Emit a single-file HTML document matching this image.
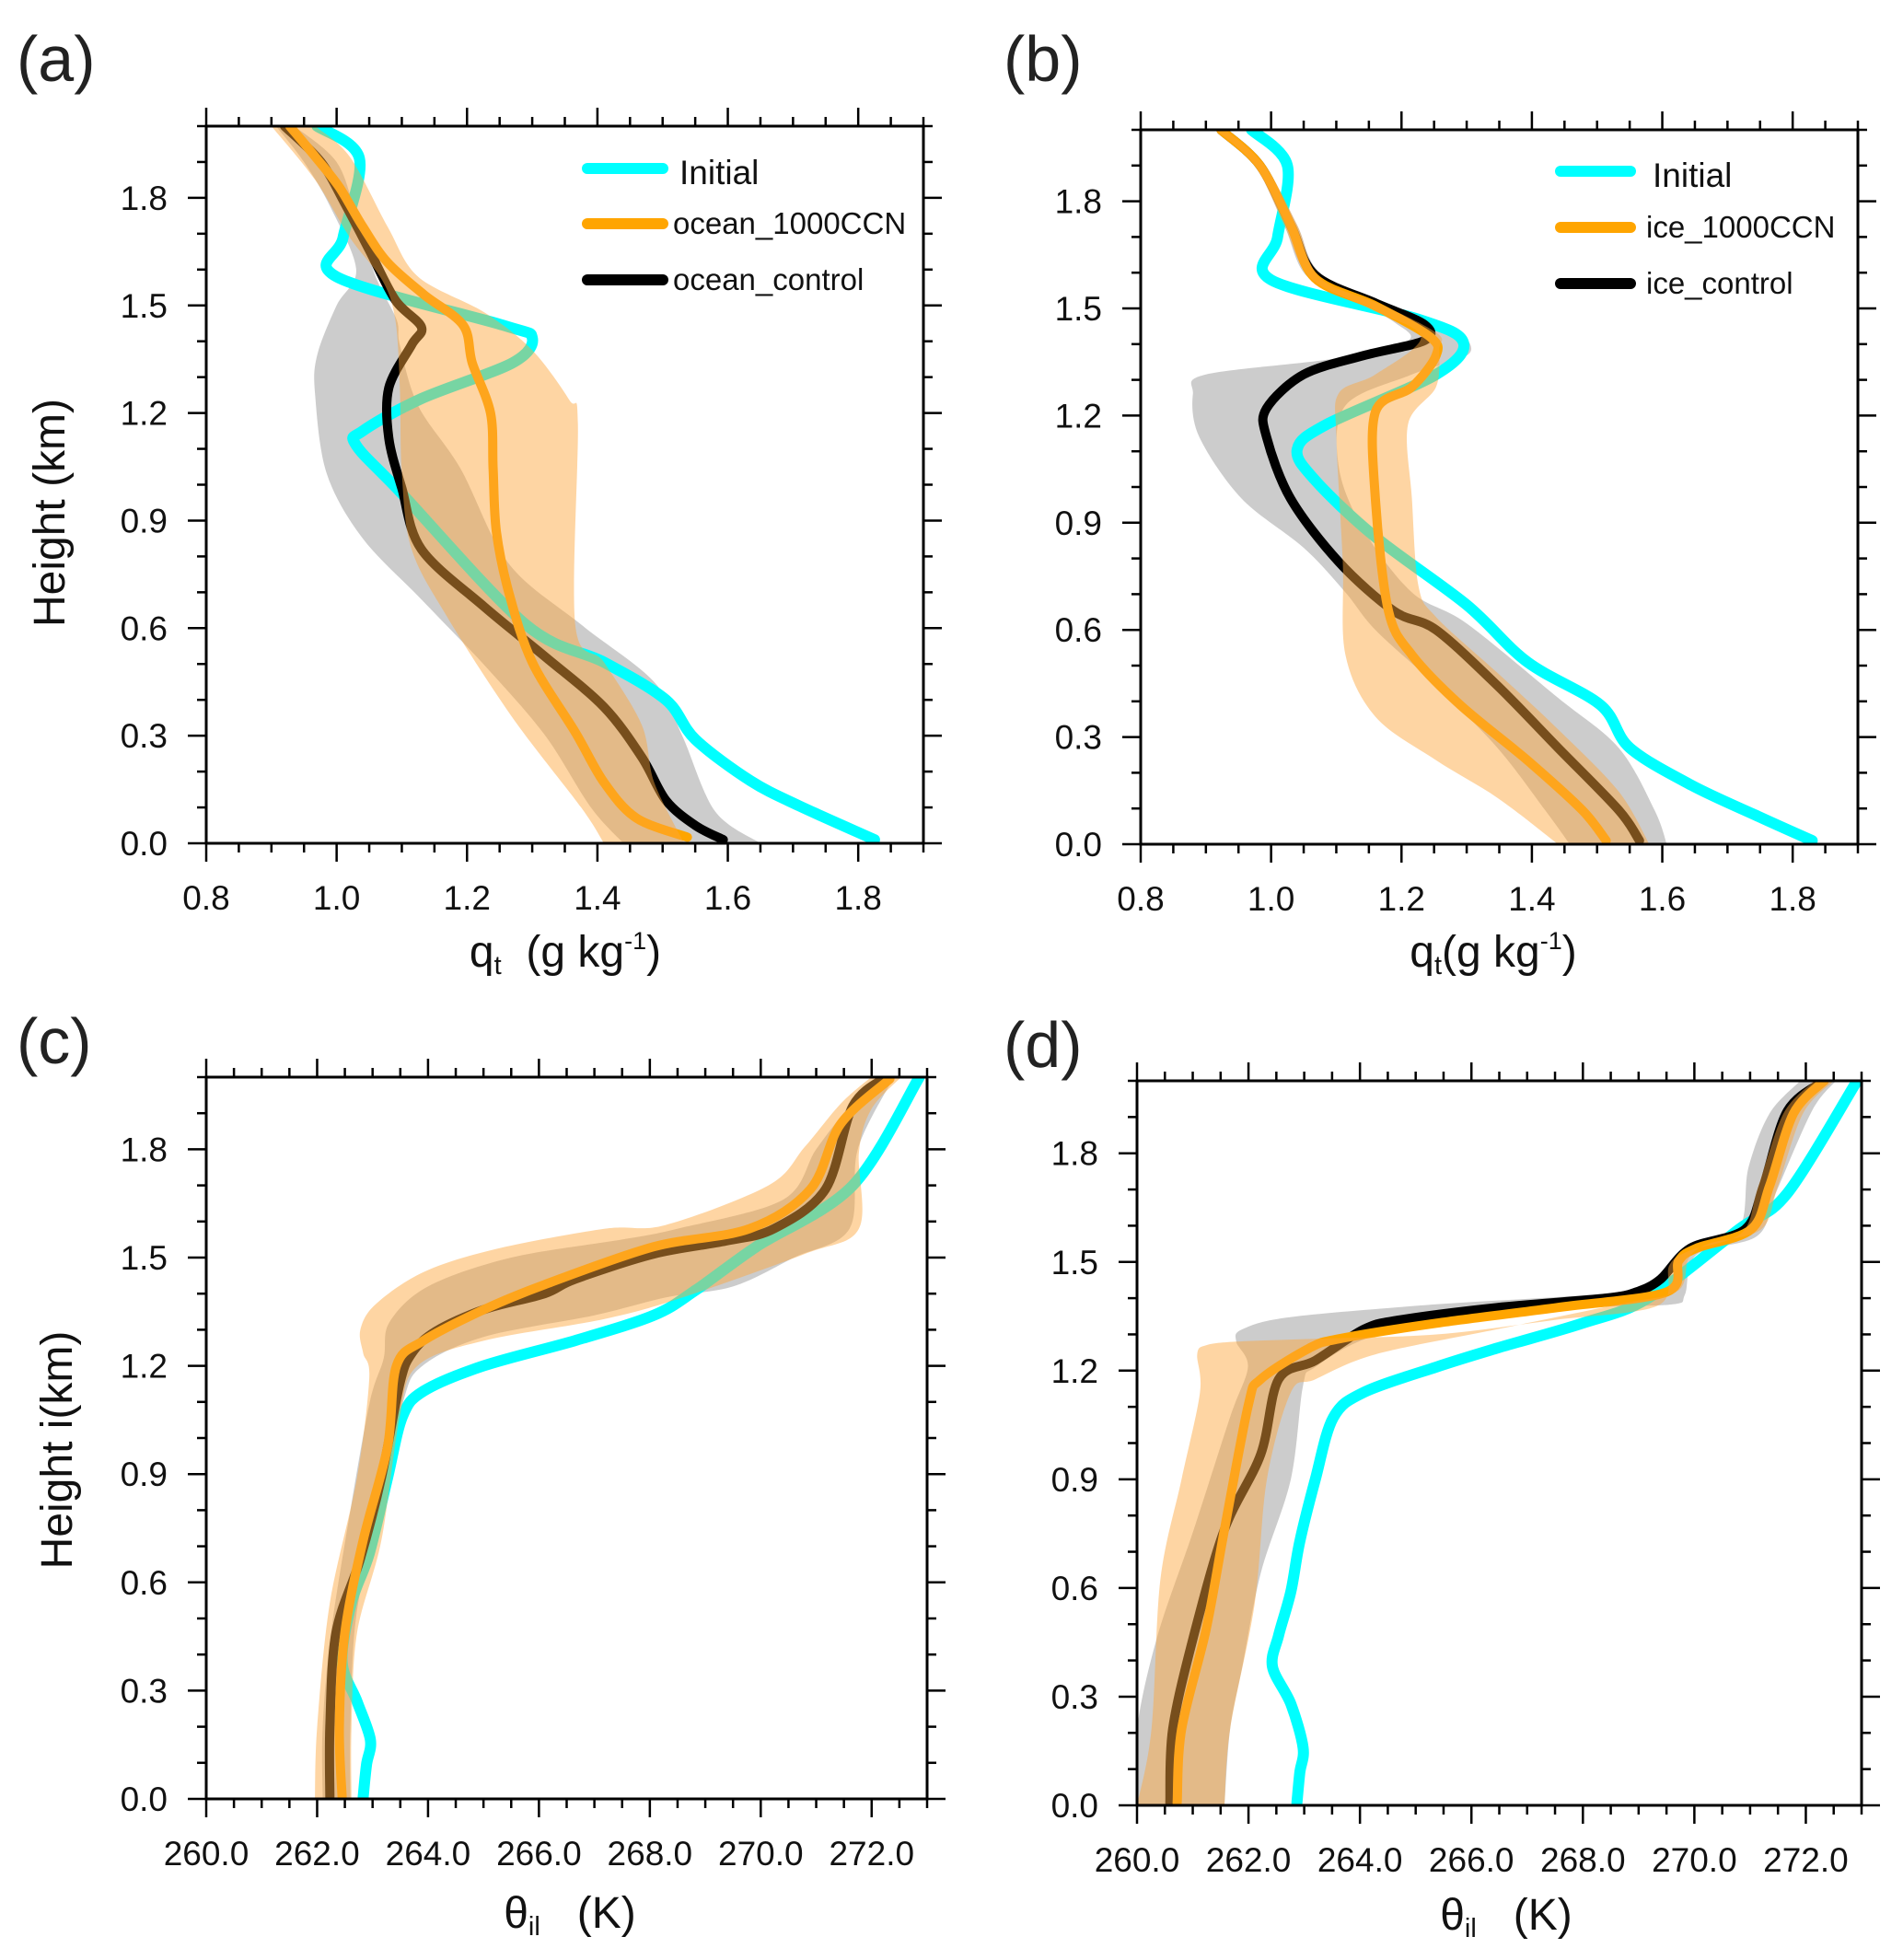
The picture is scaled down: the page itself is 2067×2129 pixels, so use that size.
<!DOCTYPE html>
<html><head><meta charset="utf-8"><style>
html,body{margin:0;padding:0;background:#fff;}
svg{display:block;font-family:"Liberation Sans",Arial,sans-serif;}
</style></head><body>
<svg id="fig" width="2067" height="2129" viewBox="0 0 2067 2129" xmlns="http://www.w3.org/2000/svg"></svg>
<script>
// ---------- tick labels ----------
const qTickVals=[0.8,1.0,1.2,1.4,1.6,1.8];
const qTickLabels=["0.8","1.0","1.2","1.4","1.6","1.8"];
const tTickVals=[260,262,264,266,268,270,272];
const tTickLabels=["260.0","262.0","264.0","266.0","268.0","270.0","272.0"];
const zTickVals=[0,0.3,0.6,0.9,1.2,1.5,1.8];
const zTickLabels=["0.0","0.3","0.6","0.9","1.2","1.5","1.8"];

// ---------- panel (a) ----------
const aInitQ=[1.825,1.71,1.635,1.55,1.505,1.41,1.29,1.10,1.03,1.04,1.13,1.27,1.30,1.255,1.0,1.01,1.035,0.97];
const aInitZ=[0.01,0.104,0.174,0.29,0.40,0.505,0.61,0.975,1.11,1.15,1.24,1.34,1.41,1.445,1.58,1.69,1.91,2.0];
const aCtlQ=[1.593,1.55,1.505,1.468,1.41,1.32,1.226,1.13,1.10,1.08,1.08,1.115,1.13,1.09,1.05,1.015,0.976,0.92];
const aCtlZ=[0.01,0.05,0.12,0.24,0.38,0.52,0.66,0.82,0.99,1.13,1.27,1.39,1.44,1.515,1.655,1.776,1.90,2.0];
const aCcnQ=[1.538,1.46,1.41,1.366,1.30,1.264,1.245,1.24,1.236,1.208,1.194,1.134,1.078,1.04,1.004,0.967,0.928];
const aCcnZ=[0.017,0.07,0.17,0.31,0.505,0.70,0.87,1.045,1.20,1.34,1.445,1.53,1.62,1.72,1.83,1.915,2.0];
const aCtlLoQ=[1.44,1.39,1.32,1.23,1.13,1.04,0.985,0.967,0.97,1.0,1.03,0.99,0.95,0.907];
const aCtlLoZ=[0.0,0.10,0.30,0.49,0.68,0.85,1.03,1.25,1.36,1.50,1.60,1.776,1.90,2.0];
const aCtlHiQ=[1.65,1.58,1.53,1.487,1.375,1.264,1.19,1.125,1.097,1.092,1.06,1.03,1.00,0.935];
const aCtlHiZ=[0.0,0.09,0.30,0.45,0.61,0.78,1.045,1.22,1.39,1.46,1.58,1.75,1.90,2.0];
const aCcnLoQ=[1.41,1.375,1.27,1.17,1.115,1.10,1.097,1.09,1.07,1.02,0.967,0.90];
const aCcnLoZ=[0.0,0.10,0.35,0.63,0.82,1.03,1.27,1.46,1.57,1.69,1.85,2.0];
const aCcnHiQ=[1.533,1.487,1.468,1.41,1.366,1.37,1.357,1.30,1.227,1.125,1.078,1.02,0.967];
const aCcnHiZ=[0.0,0.17,0.33,0.505,0.61,1.17,1.236,1.375,1.48,1.58,1.72,1.915,2.0];

// ---------- panel (b) ----------
const bInitQ=[1.83,1.747,1.645,1.55,1.505,1.393,1.30,1.16,1.067,1.04,1.086,1.253,1.295,1.225,1.0,1.01,1.025,0.97];
const bInitZ=[0.01,0.078,0.165,0.27,0.39,0.51,0.67,0.86,1.02,1.106,1.176,1.315,1.405,1.47,1.58,1.70,1.90,2.0];
const bCtlQ=[1.565,1.533,1.44,1.347,1.253,1.188,1.104,1.03,0.993,0.993,1.05,1.142,1.235,1.235,1.16,1.067,1.03,0.983,0.923];
const bCtlZ=[0.01,0.096,0.27,0.444,0.60,0.653,0.79,0.967,1.14,1.22,1.315,1.368,1.41,1.455,1.515,1.594,1.733,1.90,2.0];
const bCcnQ=[1.514,1.477,1.393,1.29,1.216,1.18,1.16,1.16,1.216,1.253,1.244,1.16,1.067,1.03,0.983,0.923];
const bCcnZ=[0.01,0.096,0.235,0.39,0.53,0.653,0.967,1.21,1.28,1.368,1.42,1.507,1.585,1.733,1.90,2.0];
const bCtlLoQ=[1.458,1.42,1.347,1.253,1.16,1.114,1.05,0.955,0.89,0.88,0.90,1.10,1.21,1.19,1.14,1.055,1.02,0.975,0.915];
const bCtlLoZ=[0.0,0.096,0.27,0.444,0.60,0.705,0.83,0.967,1.14,1.26,1.315,1.36,1.41,1.46,1.51,1.59,1.733,1.90,2.0];
const bCtlHiQ=[1.607,1.588,1.533,1.44,1.30,1.216,1.142,1.104,1.114,1.216,1.305,1.272,1.18,1.075,1.04,0.99,0.93];
const bCtlHiZ=[0.0,0.096,0.27,0.41,0.618,0.705,0.88,1.054,1.228,1.315,1.376,1.455,1.507,1.60,1.733,1.90,2.0];
const bCcnLoQ=[1.44,1.347,1.253,1.16,1.114,1.11,1.10,1.104,1.16,1.23,1.15,1.06,1.02,0.975,0.915];
const bCcnLoZ=[0.0,0.13,0.235,0.357,0.53,0.79,1.14,1.263,1.315,1.42,1.50,1.585,1.733,1.90,2.0];
const bCcnHiQ=[1.58,1.533,1.44,1.347,1.253,1.226,1.216,1.21,1.253,1.258,1.255,1.17,1.075,1.04,0.99,0.93];
const bCcnHiZ=[0.0,0.148,0.322,0.48,0.636,0.723,0.967,1.176,1.28,1.385,1.43,1.51,1.585,1.733,1.90,2.0];

// ---------- panel (c) ----------
const cInitT=[262.83,262.89,262.96,262.72,262.45,262.62,262.94,263.27,263.54,263.92,265.0,266.65,268.07,268.83,269.92,271.66,272.86];
const cInitZ=[0.005,0.095,0.164,0.27,0.38,0.544,0.68,0.89,1.06,1.13,1.20,1.27,1.34,1.41,1.53,1.70,2.0];
const cCtlT=[262.23,262.23,262.34,262.78,263.16,263.49,263.71,264.14,265.01,266.1,266.65,268.07,269.37,270.24,271.17,271.66,272.26];
const cCtlZ=[0.005,0.2,0.46,0.665,0.89,1.15,1.235,1.296,1.356,1.40,1.44,1.51,1.546,1.58,1.69,1.92,2.0];
const cCcnT=[262.45,262.4,262.5,262.83,263.27,263.43,263.92,265.01,266.1,268.07,269.8,270.9,271.44,272.33];
const cCcnZ=[0.005,0.2,0.46,0.717,0.976,1.20,1.27,1.356,1.425,1.53,1.58,1.69,1.87,1.995];
const cCtlLoT=[262.1,262.1,262.25,262.6,262.95,263.2,263.3,264.0,265.5,267.5,268.5,270.4,271.0,271.6,272.1];
const cCtlLoZ=[0,0.2,0.46,0.8,1.1,1.22,1.32,1.42,1.50,1.55,1.58,1.66,1.80,1.92,2.0];
const cCtlHiT=[262.6,262.6,262.7,263.1,263.55,263.9,265.0,267.0,268.3,269.5,270.6,271.6,271.75,272.4];
const cCtlHiZ=[0,0.2,0.5,0.8,1.1,1.20,1.28,1.34,1.39,1.42,1.50,1.58,1.80,2.0];
const cCcnLoT=[261.96,262.0,262.23,262.72,262.94,262.83,262.78,263.05,263.92,265.23,267.19,268.28,270.14,270.79,271.44,271.99];
const cCcnLoZ=[0,0.2,0.544,0.89,1.166,1.235,1.30,1.37,1.46,1.524,1.58,1.59,1.70,1.806,1.926,2.0];
const cCcnHiT=[262.62,262.62,262.72,263.16,263.49,263.81,265.01,267.19,268.6,270.79,271.77,271.77,271.99,272.53];
const cCcnHiZ=[0,0.2,0.46,0.717,1.06,1.20,1.27,1.33,1.39,1.51,1.58,1.79,1.91,2.0];

// ---------- panel (d) ----------
const dInitT=[262.87,262.92,262.98,262.76,262.43,262.54,262.76,262.92,263.2,263.52,264.07,265.37,266.46,267.98,269.17,270.8,271.67,272.92];
const dInitZ=[0.007,0.09,0.159,0.28,0.383,0.469,0.59,0.728,0.9,1.07,1.14,1.21,1.262,1.33,1.40,1.59,1.69,2.0];
const dCtlT=[260.59,260.64,261.02,261.57,262.22,262.54,263.2,264.07,264.72,266.46,268.41,268.96,269.39,269.93,270.91,271.24,271.67,272.33];
const dCtlZ=[0.007,0.21,0.469,0.762,0.969,1.176,1.228,1.314,1.34,1.374,1.40,1.417,1.452,1.538,1.59,1.71,1.917,2.0];
const dCcnT=[260.72,260.8,261.24,261.57,262.0,262.22,263.09,263.63,265.37,267.54,269.5,269.72,270.04,271.02,271.35,271.78,272.33];
const dCcnZ=[0.007,0.21,0.486,0.762,1.107,1.176,1.262,1.288,1.331,1.374,1.417,1.503,1.538,1.59,1.71,1.91,2.0];
const dCtlLoT=[260,260,260.37,261.02,261.67,261.99,261.78,261.89,262.76,265.37,267.54,268.63,269.5,269.93,270.8,270.97,271.35,271.9];
const dCtlLoZ=[0,0.21,0.469,0.762,1.072,1.21,1.28,1.314,1.348,1.383,1.403,1.417,1.452,1.52,1.59,1.76,1.91,2.0];
const dCtlHiT=[261.57,261.67,261.89,262.22,262.76,262.98,263.2,264.28,266.24,268.2,269.61,269.83,270.04,271.13,271.46,272.11,272.54];
const dCtlHiZ=[0,0.21,0.383,0.641,0.9,1.159,1.21,1.297,1.34,1.374,1.383,1.41,1.52,1.572,1.69,1.917,2.0];
const dCcnLoT=[260,260.26,260.42,260.8,261.13,261.08,261.24,261.78,263.2,265.37,267.5,269.35,269.55,269.9,270.85,271.15,271.6,272.15];
const dCcnLoZ=[0,0.21,0.624,0.9,1.14,1.245,1.27,1.28,1.288,1.30,1.34,1.38,1.49,1.53,1.58,1.71,1.91,2.0];
const dCcnHiT=[261.57,261.67,262.11,262.33,262.76,263.2,264.28,266.46,268.63,269.7,269.9,270.25,271.2,271.5,271.95,272.5];
const dCcnHiZ=[0,0.21,0.555,0.9,1.14,1.176,1.245,1.314,1.383,1.42,1.51,1.55,1.59,1.71,1.91,2.0];

const NS="http://www.w3.org/2000/svg";
const svg=document.getElementById('fig');
function mk(tag,attrs,parent){const e=document.createElementNS(NS,tag);for(const k in attrs)e.setAttribute(k,attrs[k]);(parent||svg).appendChild(e);return e;}

// Catmull-Rom smoothing path through screen points
function smoothPath(pts,closed){
  let d='M'+pts[0][0].toFixed(1)+','+pts[0][1].toFixed(1);
  const n=pts.length;
  for(let i=0;i<n-1;i++){
    const p0=pts[Math.max(0,i-1)],p1=pts[i],p2=pts[i+1],p3=pts[Math.min(n-1,i+2)];
    const t=0.16;
    const c1=[p1[0]+(p2[0]-p0[0])*t,p1[1]+(p2[1]-p0[1])*t];
    const c2=[p2[0]-(p3[0]-p1[0])*t,p2[1]-(p3[1]-p1[1])*t];
    d+='C'+c1[0].toFixed(1)+','+c1[1].toFixed(1)+' '+c2[0].toFixed(1)+','+c2[1].toFixed(1)+' '+p2[0].toFixed(1)+','+p2[1].toFixed(1);
  }
  if(closed)d+='Z';
  return d;
}

function panel(p){
  const g=mk('g',{});
  
  
  const sx=v=>p.L+(v-p.x0)/(p.x1-p.x0)*(p.R-p.L);
  const sy=v=>p.B-(v-0)/(2.0-0)*(p.B-p.T);
  const cp='clip-'+p.id;
  const defs=mk('defs',{},g);
  const clip=mk('clipPath',{id:cp},defs);
  mk('rect',{x:p.L,y:p.T,width:p.R-p.L,height:p.B-p.T},clip);
  const plot=mk('g',{'clip-path':'url(#'+cp+')'},g);
  function band(lx,lz,hx,hz,fill,op,name){
    const lo=lx.map((v,i)=>[sx(v),sy(lz[i])]);
    const hi=hx.map((v,i)=>[sx(v),sy(hz[i])]);
    const d=smoothPath(lo,false)+smoothPath(hi.slice().reverse(),false).replace(/^M/,'L')+'Z';
    const e=mk('path',{d:d,fill:fill,'fill-opacity':op},plot);
    
    
  }
  function line(xs,zs,col,w,name){
    const pts=xs.map((v,i)=>[sx(v),sy(zs[i])]);
    const e=mk('path',{d:smoothPath(pts,false),fill:'none',stroke:col,'stroke-width':w,'stroke-linejoin':'round','stroke-linecap':'round'},plot);
    
    
  }
  band(p.ctlLo[0],p.ctlLo[1],p.ctlHi[0],p.ctlHi[1],'#9a9a9a',0.5,'control-spread-band');
  line(p.init[0],p.init[1],'#00FFFF',12,'initial-line');
  line(p.ctl[0],p.ctl[1],'#000000',10,'control-line');
  line(p.ccn[0],p.ccn[1],'#FFA500',10,'ccn-line');
  band(p.ccnLo[0],p.ccnLo[1],p.ccnHi[0],p.ccnHi[1],'#FCA53C',0.47,'ccn-spread-band');
  const fr=mk('rect',{x:p.L,y:p.T,width:p.R-p.L,height:p.B-p.T,fill:'none',stroke:'#000','stroke-width':3},g);
  
  
  const tk=mk('g',{stroke:'#000','stroke-width':2.5},g);
  for(let v=p.x0;v<=p.x1+1e-9;v+=p.minor){
    const isMaj=p.xt.some(t=>Math.abs(t-v)<1e-6);
    const len=isMaj?20:10;const x=sx(v);
    mk('line',{x1:x,y1:p.B,x2:x,y2:p.B+len},tk);
    mk('line',{x1:x,y1:p.T,x2:x,y2:p.T-len},tk);
  }
  for(let v=0;v<=2.0+1e-9;v+=0.1){
    const isMaj=zTickVals.some(t=>Math.abs(t-v)<1e-6);
    const len=isMaj?20:10;const y=sy(v);
    mk('line',{x1:p.L,y1:y,x2:p.L-len,y2:y},tk);
    mk('line',{x1:p.R,y1:y,x2:p.R+len,y2:y},tk);
  }
  p.xt.forEach((v,i)=>{
    const t=mk('text',{x:sx(v),y:p.B+72,'font-size':37,'text-anchor':'middle',fill:'#111'},g);
    t.textContent=p.xl[i];
    
    
  });
  zTickVals.forEach((v,i)=>{
    const t=mk('text',{x:p.L-42,y:sy(v)+13,'font-size':37,'text-anchor':'end',fill:'#111'},g);
    t.textContent=zTickLabels[i];
    
    
  });
  const lab=mk('text',{x:p.labX,y:p.labY,'font-size':70,fill:'#222'},g);
  lab.textContent='('+p.id+')';
  
  
  return g;
}

const panels=[
 {id:'a',L:224,R:1003,T:137,B:916,x0:0.8,x1:1.9,minor:0.05,xt:qTickVals,xl:qTickLabels,labX:18,labY:88,
  init:[aInitQ,aInitZ],ctl:[aCtlQ,aCtlZ],ccn:[aCcnQ,aCcnZ],ctlLo:[aCtlLoQ,aCtlLoZ],ctlHi:[aCtlHiQ,aCtlHiZ],ccnLo:[aCcnLoQ,aCcnLoZ],ccnHi:[aCcnHiQ,aCcnHiZ]},
 {id:'b',L:1239,R:2018,T:141,B:917,x0:0.8,x1:1.9,minor:0.05,xt:qTickVals,xl:qTickLabels,labX:1090,labY:88,
  init:[bInitQ,bInitZ],ctl:[bCtlQ,bCtlZ],ccn:[bCcnQ,bCcnZ],ctlLo:[bCtlLoQ,bCtlLoZ],ctlHi:[bCtlHiQ,bCtlHiZ],ccnLo:[bCcnLoQ,bCcnLoZ],ccnHi:[bCcnHiQ,bCcnHiZ]},
 {id:'c',L:224,R:1007,T:1170,B:1954,x0:260,x1:273,minor:0.5,xt:tTickVals,xl:tTickLabels,labX:18,labY:1155,
  init:[cInitT,cInitZ],ctl:[cCtlT,cCtlZ],ccn:[cCcnT,cCcnZ],ctlLo:[cCtlLoT,cCtlLoZ],ctlHi:[cCtlHiT,cCtlHiZ],ccnLo:[cCcnLoT,cCcnLoZ],ccnHi:[cCcnHiT,cCcnHiZ]},
 {id:'d',L:1235,R:2022,T:1174,B:1961,x0:260,x1:273,minor:0.5,xt:tTickVals,xl:tTickLabels,labX:1090,labY:1159,
  init:[dInitT,dInitZ],ctl:[dCtlT,dCtlZ],ccn:[dCcnT,dCcnZ],ctlLo:[dCtlLoT,dCtlLoZ],ctlHi:[dCtlHiT,dCtlHiZ],ccnLo:[dCcnLoT,dCcnLoZ],ccnHi:[dCcnHiT,dCcnHiZ]}
];
panels.forEach(panel);

function legend(x0,x1,tx,ys,names,id){
  const g=mk('g',{});
  
  
  const cols=['#00FFFF','#FFA500','#000000'];
  ys.forEach((y,i)=>{
    const e=mk('line',{x1:x0,y1:y,x2:x1,y2:y,stroke:cols[i],'stroke-width':12,'stroke-linecap':'round'},g);
    
    
    const t=mk('text',{x:i==0?tx+7:tx,y:y+(i==0?17:11),'font-size':i==0?37:33,fill:'#111'},g);
    t.textContent=names[i];
    
    
  });
}
legend(638,720,731,[183,243,304],['Initial','ocean_1000CCN','ocean_control'],'a');
legend(1695,1771,1788,[186,247,308],['Initial','ice_1000CCN','ice_control'],'b');
</script>
<svg style="position:absolute;left:0;top:0" width="2067" height="2129" xmlns="http://www.w3.org/2000/svg" font-family="Liberation Sans, Arial, sans-serif" fill="#111">
  <text transform="translate(70,557) rotate(-90)" text-anchor="middle" font-size="48">Height (km)</text>
  <text x="614" y="1050" text-anchor="middle" font-size="48">q<tspan font-size="29" dy="8">t</tspan><tspan dy="-8" font-size="48" xml:space="preserve">  (g kg</tspan><tspan font-size="27" dy="-19">-1</tspan><tspan dy="19" font-size="48">)</tspan></text>
  <text x="1622" y="1050" text-anchor="middle" font-size="48">q<tspan font-size="29" dy="8">t</tspan><tspan dy="-8" font-size="48">(g kg</tspan><tspan font-size="27" dy="-19">-1</tspan><tspan dy="19" font-size="48">)</tspan></text>
  <text transform="translate(78,1575) rotate(-90)" text-anchor="middle" font-size="48">Height i(km)</text>
  <text x="619" y="2094" text-anchor="middle" font-size="48" xml:space="preserve">θ<tspan font-size="29" dy="8">il</tspan><tspan dy="-8" font-size="48">   (K)</tspan></text>
  <text x="1636" y="2096" text-anchor="middle" font-size="48" xml:space="preserve">θ<tspan font-size="29" dy="8">il</tspan><tspan dy="-8" font-size="48">   (K)</tspan></text>
</svg>
</body></html>
